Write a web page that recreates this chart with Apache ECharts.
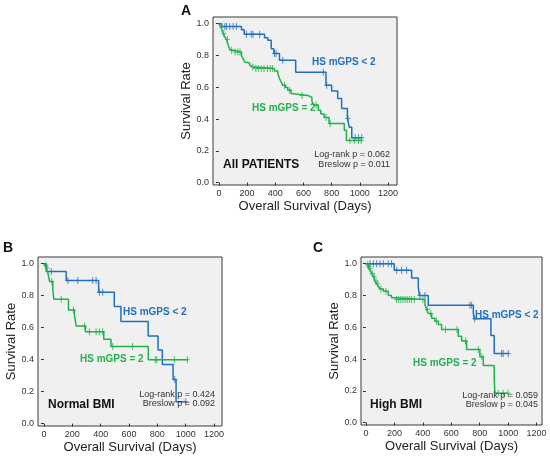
<!DOCTYPE html>
<html>
<head>
<meta charset="utf-8">
<script src="https://cdn.jsdelivr.net/npm/echarts@6/dist/echarts.min.js"></script>
<style>
  html, body { margin: 0; padding: 0; background: #fff; }
  #chart { width: 550px; height: 459px; }
</style>
</head>
<body>
<div id="chart"></div>
<script>
// tick labels
const xTicks = [0, 200, 400, 600, 800, 1000, 1200];
const yTicks = [0, 0.2, 0.4, 0.6, 0.8, 1.0];

// Panel A - All patients
const aBlueT = [0, 20, 160, 180, 324, 347, 371, 390, 430, 545, 760, 800, 843, 871, 912, 926, 943, 1014];
const aBlueS = [1, 0.983, 0.962, 0.933, 0.912, 0.895, 0.843, 0.812, 0.77, 0.695, 0.613, 0.577, 0.53, 0.467, 0.404, 0.348, 0.283, 0.283];
const aBlueCens = [42, 54, 77, 101, 124, 195, 230, 242, 289, 394, 406, 453, 741, 765, 915, 967, 991, 1014];
const aGreenT = [0, 7, 14, 23, 31, 42, 54, 66, 73, 82, 101, 160, 171, 183, 195, 218, 230, 246, 394, 418, 430, 441, 453, 472, 488, 512, 523, 634, 660, 670, 705, 723, 747, 782, 890, 905, 1010];
const aGreenS = [1, 0.99, 0.979, 0.958, 0.937, 0.916, 0.9, 0.864, 0.846, 0.833, 0.822, 0.8, 0.78, 0.759, 0.753, 0.738, 0.728, 0.718, 0.703, 0.686, 0.655, 0.634, 0.613, 0.598, 0.582, 0.56, 0.548, 0.536, 0.515, 0.488, 0.456, 0.431, 0.41, 0.372, 0.33, 0.265, 0.265];
const aGreenCens = [18, 35, 60, 90, 115, 135, 150, 240, 262, 280, 300, 320, 345, 365, 380, 465, 500, 590, 690, 760, 790, 930, 960, 990, 1010];

// Panel B - Normal BMI
const bBlueT = [0, 16, 157, 386, 496, 543, 735, 805, 835, 911, 932, 1005];
const bBlueS = [1, 0.952, 0.895, 0.822, 0.732, 0.638, 0.548, 0.46, 0.37, 0.276, 0.136, 0.136];
const bBlueCens = [52, 169, 239, 344, 368, 391, 414, 923, 1000];
const bGreenT = [0, 9, 16, 28, 40, 62, 70, 173, 215, 227, 293, 422, 473, 736, 1012];
const bGreenS = [1, 0.987, 0.973, 0.941, 0.889, 0.84, 0.778, 0.711, 0.68, 0.611, 0.575, 0.527, 0.482, 0.4, 0.4];
const bGreenCens = [14, 22, 55, 122, 208, 286, 321, 368, 391, 414, 485, 625, 785, 795, 920, 1012];

// Panel C - High BMI
const cBlueT = [0, 199, 321, 368, 375, 438, 755, 760, 879, 902, 1001];
const cBlueS = [1, 0.958, 0.91, 0.854, 0.8, 0.738, 0.69, 0.653, 0.548, 0.435, 0.435];
const cBlueCens = [28, 52, 75, 98, 122, 157, 180, 216, 251, 286, 380, 415, 731, 743, 765, 954, 965, 1001];
const cGreenT = [0, 9, 16, 23, 33, 40, 52, 63, 75, 87, 98, 122, 157, 180, 204, 415, 427, 438, 462, 485, 509, 532, 649, 673, 708, 801, 825, 902, 907, 1000];
const cGreenS = [1, 0.994, 0.983, 0.969, 0.952, 0.937, 0.92, 0.889, 0.874, 0.858, 0.841, 0.826, 0.799, 0.785, 0.774, 0.742, 0.711, 0.686, 0.657, 0.638, 0.617, 0.586, 0.544, 0.513, 0.46, 0.414, 0.36, 0.272, 0.184, 0.184];
const cGreenCens = [12, 20, 28, 45, 58, 70, 82, 105, 140, 215, 230, 245, 260, 275, 290, 305, 320, 340, 400, 432, 455, 495, 560, 640, 700, 790, 815, 930, 965, 1000];

const BLUE = "#1f6fc2";
const GREEN = "#22b14c";
const FONT = "Liberation Sans, Arial, sans-serif";
const PLUS = "path://M2,0h1v3h2v1h-2v3h-1v-3h-2v-1h2z";

function survAt(ts, ss, t){
  let s = ss[0];
  for (let i = 0; i < ts.length; i++){
    if (ts[i] <= t) s = ss[i]; else break;
  }
  return s;
}

const panels = [
  { box: { left: 213, top: 17, width: 184, height: 168 }, xMin: -42, xMax: 1264,
    blue: [aBlueT, aBlueS, aBlueCens], green: [aGreenT, aGreenS, aGreenCens] },
  { box: { left: 38, top: 257, width: 184, height: 169 }, xMin: -42, xMax: 1256,
    blue: [bBlueT, bBlueS, bBlueCens], green: [bGreenT, bGreenS, bGreenCens] },
  { box: { left: 361, top: 257, width: 181, height: 168 }, xMin: -35, xMax: 1238,
    blue: [cBlueT, cBlueS, cBlueCens], green: [cGreenT, cGreenS, cGreenCens] }
];

const grid = [], xAxis = [], yAxis = [], series = [];

panels.forEach((p, i) => {
  grid.push(Object.assign({
    show: true, backgroundColor: "#f0f0f0", borderColor: "#3a3a3a", borderWidth: 1
  }, p.box));

  xAxis.push({
    type: "value", gridIndex: i, min: p.xMin, max: p.xMax,
    name: "Overall Survival (Days)", nameLocation: "middle", nameGap: 15,
    nameTextStyle: { fontFamily: FONT, fontSize: 13, color: "#222" },
    axisLine: { show: false }, splitLine: { show: false },
    axisTick: { show: true, customValues: xTicks, length: 3, lineStyle: { color: "#333" } },
    axisLabel: { customValues: xTicks, fontFamily: FONT, fontSize: 9, color: "#333", margin: 4,
      formatter: (v) => String(v) }
  });

  yAxis.push({
    type: "value", gridIndex: i, min: -0.015, max: 1.042,
    name: "Survival Rate", nameLocation: "middle", nameGap: 20,
    nameTextStyle: { fontFamily: FONT, fontSize: 13, color: "#222" },
    axisLine: { show: false }, splitLine: { show: false },
    axisTick: { show: true, customValues: yTicks, length: 3, lineStyle: { color: "#333" } },
    axisLabel: { customValues: yTicks, fontFamily: FONT, fontSize: 9, color: "#333", margin: 4,
      formatter: (v) => v.toFixed(1) }
  });

  [[p.blue, BLUE], [p.green, GREEN]].forEach(([d, col]) => {
    const [ts, ss, cens] = d;
    series.push({
      type: "line", xAxisIndex: i, yAxisIndex: i, step: "end",
      data: ts.map((t, k) => [t, ss[k]]),
      showSymbol: false, lineStyle: { color: col, width: 1.5 }, z: 3
    });
    series.push({
      type: "scatter", xAxisIndex: i, yAxisIndex: i,
      data: cens.map(t => [t, survAt(ts, ss, t)]),
      symbol: PLUS, symbolSize: [5, 7], itemStyle: { color: col }, z: 4
    });
  });
});

function txt(x, y, text, opts){
  return {
    type: "text", x, y, z: 10,
    style: Object.assign({ text, fontFamily: FONT, fontSize: 10, fill: "#222",
      textAlign: "left", textVerticalAlign: "middle" }, opts || {})
  };
}

const bold = (c, size) => ({ fill: c, fontWeight: "bold", fontSize: size || 10 });

const graphic = [
  txt(186, 11, "A", Object.assign(bold("#111", 14), { textAlign: "center" })),
  txt(312, 62, "HS mGPS < 2", bold(BLUE)),
  txt(252, 108, "HS mGPS = 2", bold(GREEN)),
  txt(223, 165, "All PATIENTS", bold("#111", 12)),
  txt(390, 155, "Log-rank p = 0.062", { fontSize: 9, textAlign: "right", fill: "#333" }),
  txt(390, 165, "Breslow p = 0.011", { fontSize: 9, textAlign: "right", fill: "#333" }),

  txt(8, 248, "B", Object.assign(bold("#111", 14), { textAlign: "center" })),
  txt(123, 312, "HS mGPS < 2", bold(BLUE)),
  txt(80, 359, "HS mGPS = 2", bold(GREEN)),
  txt(48, 405, "Normal BMI", bold("#111", 12)),
  txt(215, 395, "Log-rank p = 0.424", { fontSize: 9, textAlign: "right", fill: "#333" }),
  txt(215, 404, "Breslow p = 0.092", { fontSize: 9, textAlign: "right", fill: "#333" }),

  txt(318, 248, "C", Object.assign(bold("#111", 14), { textAlign: "center" })),
  txt(475, 315, "HS mGPS < 2", bold(BLUE)),
  txt(413, 363, "HS mGPS = 2", bold(GREEN)),
  txt(370, 405, "High BMI", bold("#111", 12)),
  txt(538, 396, "Log-rank p = 0.059", { fontSize: 9, textAlign: "right", fill: "#333" }),
  txt(538, 405, "Breslow p = 0.045", { fontSize: 9, textAlign: "right", fill: "#333" })
];

const chart = echarts.init(document.getElementById("chart"), null, { renderer: "canvas" });
chart.setOption({
  animation: false,
  backgroundColor: "#ffffff",
  textStyle: { fontFamily: FONT },
  grid, xAxis, yAxis, series, graphic
});
</script>
</body>
</html>
